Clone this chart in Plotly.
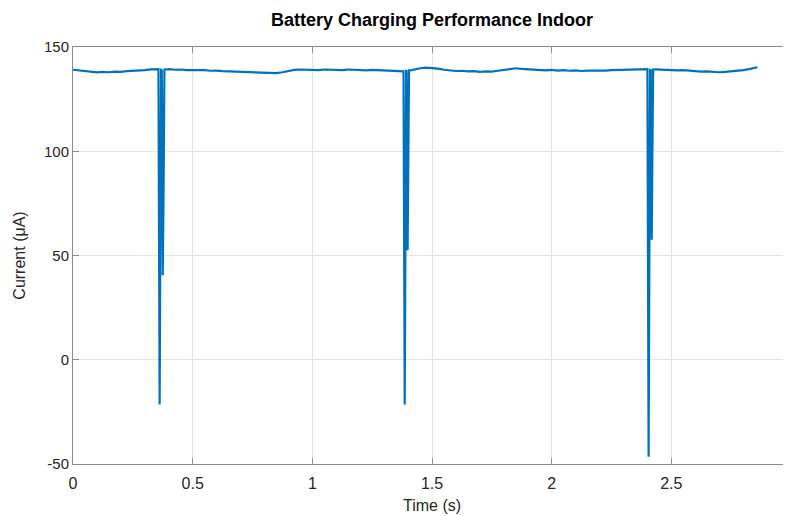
import plotly.graph_objects as go

time_s = [
    0.000, 0.025, 0.050, 0.075, 0.100, 0.125, 0.150, 0.175, 0.200, 0.225,
    0.250, 0.275, 0.300, 0.325, 0.350,
    0.357, 0.362, 0.365, 0.368, 0.371, 0.375, 0.378, 0.382,
    0.395, 0.405, 0.425, 0.450, 0.475, 0.500, 0.525, 0.550, 0.575, 0.600,
    0.625, 0.650, 0.675, 0.700, 0.725, 0.750, 0.775, 0.800, 0.825, 0.850,
    0.875, 0.900, 0.925, 0.950, 0.975, 1.000, 1.025, 1.050, 1.075, 1.100,
    1.125, 1.150, 1.175, 1.200, 1.225, 1.250, 1.275, 1.300, 1.325, 1.350,
    1.375,
    1.381, 1.386, 1.389, 1.392, 1.394, 1.398, 1.401, 1.404,
    1.415, 1.430, 1.450, 1.475, 1.500, 1.525, 1.550, 1.575, 1.600, 1.625,
    1.650, 1.675, 1.700, 1.725, 1.750, 1.775, 1.800, 1.825, 1.850, 1.875,
    1.900, 1.925, 1.950, 1.975, 2.000, 2.025, 2.050, 2.075, 2.100, 2.125,
    2.150, 2.175, 2.200, 2.225, 2.250, 2.275, 2.300, 2.325, 2.350, 2.375,
    2.395,
    2.400, 2.405, 2.408, 2.411, 2.414, 2.418, 2.421, 2.424,
    2.435, 2.450, 2.475, 2.500, 2.525, 2.550, 2.575, 2.600, 2.625, 2.650,
    2.675, 2.700, 2.725, 2.750, 2.775, 2.800, 2.825, 2.850, 2.860,
]

current_uA = [
    139.1, 138.7, 138.4, 138.0, 137.8, 138.1, 137.9, 138.2, 138.1, 138.4,
    138.5, 138.8, 138.9, 139.3, 139.5,
    139.4, -21.5, 91.0, 139.0, 138.8, 40.5, 75.0, 139.2,
    139.3, 139.4, 139.1, 139.2, 138.9, 139.0, 138.8, 138.9, 138.6, 138.7,
    138.4, 138.3, 138.5, 138.1, 138.3, 138.0, 137.8, 137.9, 137.6, 137.5,
    137.9, 138.6, 139.0, 139.2, 139.0, 139.1, 138.9, 139.2, 139.0, 139.1,
    138.9, 139.2, 139.0, 139.1, 138.8, 139.0, 138.9, 138.7, 138.5, 138.3,
    138.2,
    138.3, -21.5, 70.0, 138.5, 138.4, 52.5, 90.0, 138.8,
    138.9, 139.3, 139.8, 140.1, 139.9, 139.6, 139.1, 138.8, 138.5, 138.6,
    138.3, 138.4, 138.1, 138.3, 138.2, 138.6, 139.1, 139.6, 139.8, 139.5,
    139.3, 139.0, 139.1, 138.8, 139.0, 138.7, 138.9, 138.6, 138.8, 138.5,
    138.7, 138.6, 138.8, 138.7, 138.9, 139.0, 138.8, 139.1, 139.2, 139.4,
    139.5,
    139.4, -46.5, 80.0, 139.0, 138.9, 57.5, 100.0, 139.2,
    139.3, 139.2, 139.0, 139.1, 138.8, 138.9, 138.6, 138.5, 138.2, 138.3,
    138.0, 137.9, 138.1, 138.3, 138.6, 138.9, 139.4, 139.9, 140.3,
]

x_ticks = [0, 0.5, 1, 1.5, 2, 2.5, 3]
x_tick_labels = ["0", "0.5", "1", "1.5", "2", "2.5", "3"]
y_ticks = [-50, 0, 50, 100, 150]
y_tick_labels = ["-50", "0", "50", "100", "150"]

TXT = "#262626"
AXC = "#8c8c8c"
FONT = "Liberation Sans, Arial, sans-serif"

# page body has an 8px margin; figure sized to fit the 791x516 window
W, H = 783, 508

fig = go.Figure()
fig.add_trace(go.Scatter(
    x=time_s, y=current_uA, mode="lines",
    line=dict(color="#0072BD", width=2.2),
    showlegend=False,
))

axis_common = dict(
    showline=True, linecolor=AXC, linewidth=1, mirror="ticks",
    ticks="inside", ticklen=6, tickcolor=AXC, tickwidth=1,
    showgrid=True, gridcolor="#e3e3e3", gridwidth=1,
    zeroline=False,
)

fig.update_layout(
    width=W, height=H,
    margin=dict(l=65, r=0, t=39, b=52, autoexpand=False),
    paper_bgcolor="white", plot_bgcolor="white",
    font=dict(family=FONT, color=TXT),
    title=dict(
        text="<b>Battery Charging Performance Indoor</b>",
        x=0.5, xref="paper", xanchor="center",
        y=1 - 12 / H, yref="container", yanchor="middle",
        font=dict(family=FONT, size=18, color="black"),
    ),
    xaxis=dict(
        range=[0, 3], tickvals=x_ticks, ticktext=x_tick_labels,
        tickfont=dict(family=FONT, size=16, color=TXT),
        ticklabelstandoff=5,
        title=dict(text="Time (s)", font=dict(family=FONT, size=16, color=TXT), standoff=8),
        **axis_common,
    ),
    yaxis=dict(
        range=[-50, 150], tickvals=y_ticks, ticktext=y_tick_labels,
        tickfont=dict(family=FONT, size=15, color=TXT),
        title=dict(text="Current (μA)", font=dict(family=FONT, size=16, color=TXT), standoff=14),
        **axis_common,
    ),
)

fig.write_html("out.html")
